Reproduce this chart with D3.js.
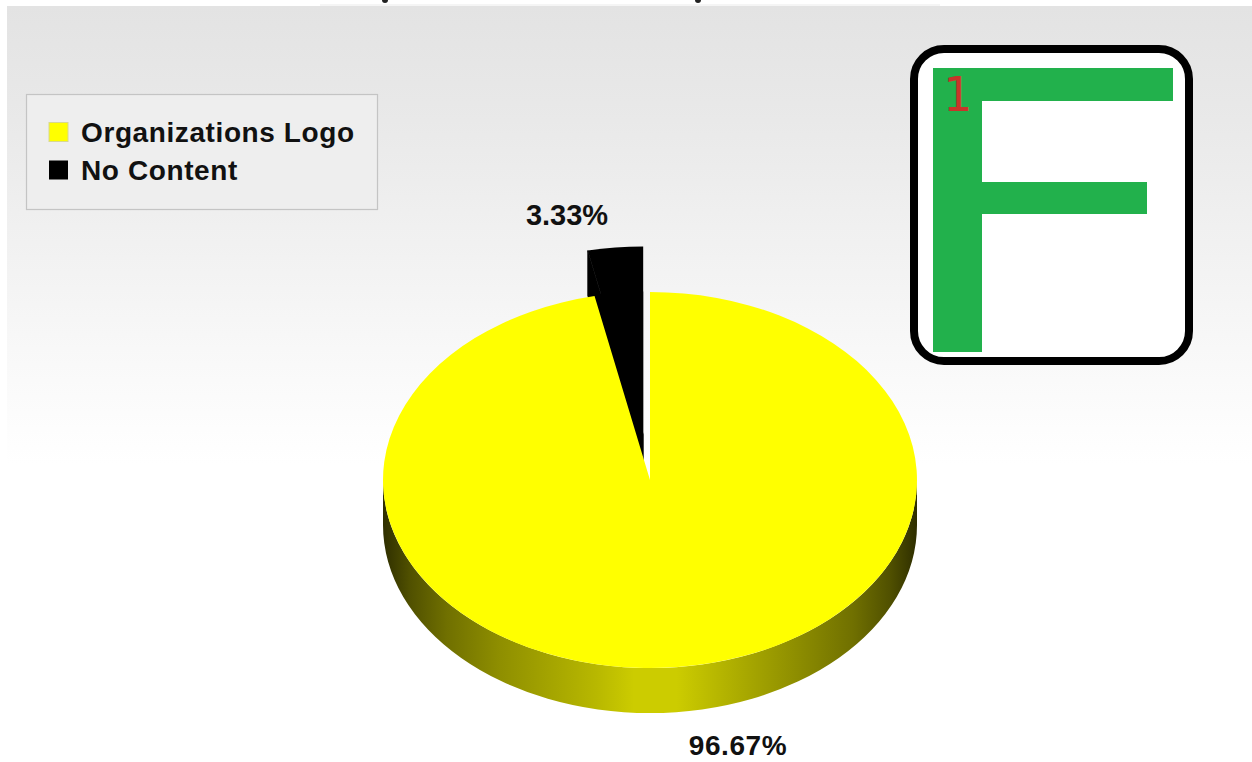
<!DOCTYPE html>
<html>
<head>
<meta charset="utf-8">
<script src="https://cdn.jsdelivr.net/npm/d3@7/dist/d3.min.js"></script>
<style>
html,body{margin:0;padding:0;background:#fff;overflow:hidden}
svg{display:block}
text{font-family:"Liberation Sans",Arial,sans-serif;font-weight:bold;fill:#111}
</style>
</head>
<body>
<svg id="chart" width="1252" height="762"></svg>
<script>
const categories = ["Organizations Logo", "No Content"];
const seriesValues = [96.67, 3.33];
const valueLabels = ["96.67%", "3.33%"];
const seriesColors = ["#ffff00", "#000000"];

const svg = d3.select("#chart");
const defs = svg.append("defs");

const cx = 650, cy = 480, rx = 267, ry = 188, depth = 45, explode = 65;

const bg = defs.append("linearGradient").attr("id","bg").attr("x1",0).attr("y1",0).attr("x2",0).attr("y2",1);
[[0,"#e3e3e3"],[0.25,"#e9e9e9"],[0.55,"#f2f2f2"],[0.85,"#fbfbfb"],[1,"#ffffff"]]
  .forEach(s => bg.append("stop").attr("offset",s[0]).attr("stop-color",s[1]));

const side = defs.append("linearGradient").attr("id","side").attr("x1",0).attr("y1",0).attr("x2",1).attr("y2",0);
[[0,"#2e2e00"],[0.05,"#505000"],[0.12,"#707000"],[0.22,"#8f8f00"],[0.4,"#b8b800"],[0.47,"#cccc00"],[0.55,"#cccc00"],[0.65,"#b0b000"],[0.78,"#8c8c00"],[0.88,"#707000"],[0.95,"#505000"],[1,"#2e2e00"]]
  .forEach(s => side.append("stop").attr("offset",s[0]).attr("stop-color",s[1]));

// background panel and clipped title remnant
svg.append("rect").attr("x",7).attr("y",6).attr("width",1245).attr("height",458).attr("fill","url(#bg)");
svg.append("rect").attr("x",320).attr("y",4).attr("width",620).attr("height",2).attr("fill","#f5f5f5");
[[385,0],[698,0]].forEach(p => svg.append("ellipse").attr("cx",p[0]).attr("cy",p[1]).attr("rx",3).attr("ry",3).attr("fill","#222"));

// pie
const arcs = d3.pie().sort(null).startAngle(0).endAngle(2*Math.PI)(seriesValues);
const arcGen = d3.arc().innerRadius(0).outerRadius(rx);
const yScale = ry / rx;

// rim of the pie
const g = svg.append("g");
const rimCurve = `M${cx-rx},${cy} L${cx-rx},${cy+depth} A${rx},${ry} 0 0 0 ${cx+rx},${cy+depth} L${cx+rx},${cy} A${rx},${ry} 0 0 1 ${cx-rx},${cy} Z`;
g.append("path").attr("d",rimCurve).attr("fill","url(#side)");

// exploded slice: top, bottom and side wall, all in its own colour
const small = arcs[1];
const mid = (small.startAngle + small.endAngle) / 2;
const ox = cx + Math.sin(mid) * explode;
const oy = cy - Math.cos(mid) * explode * yScale;
const lx = ox + Math.sin(small.startAngle) * rx;
const ly = oy - Math.cos(small.startAngle) * ry;
g.append("path")
  .attr("d", `M${ox},${oy} L${lx},${ly} L${lx},${ly+depth} L${ox},${oy+depth} Z`)
  .attr("fill", seriesColors[1]).attr("stroke", seriesColors[1]).attr("stroke-width", 0.8);
[0, depth].forEach(d => {
  g.append("path")
    .attr("d", arcGen(small))
    .attr("transform", `translate(${ox},${oy+d}) scale(1,${yScale})`)
    .attr("fill", seriesColors[1]);
});

// main slice
g.append("path")
  .attr("d", arcGen(arcs[0]))
  .attr("transform", `translate(${cx},${cy}) scale(1,${yScale})`)
  .attr("fill", seriesColors[0]);

// value labels
svg.append("text").attr("x",738).attr("y",755).attr("text-anchor","middle").attr("font-size",28).attr("letter-spacing",0.6).text(valueLabels[0]);
svg.append("text").attr("x",567).attr("y",225).attr("text-anchor","middle").attr("font-size",29).text(valueLabels[1]);

// legend
svg.append("rect").attr("x",26.5).attr("y",94.5).attr("width",351).attr("height",115)
  .attr("fill","#eeeeee").attr("stroke","#c4c4c4").attr("stroke-width",1.2);
const legendRow = d3.scaleBand().domain(categories).range([113,189]);
const leg = svg.selectAll("g.leg").data(categories).join("g").attr("class","leg")
  .attr("transform", d => `translate(0,${legendRow(d)+legendRow.bandwidth()/2})`);
leg.append("rect").attr("x",49).attr("y",-9.5).attr("width",19).attr("height",19)
  .attr("fill",(d,i)=>seriesColors[i]).attr("stroke",(d,i)=>i===0?"#d8d890":"none");
leg.append("text").attr("x",81).attr("y",10).attr("font-size",28).attr("letter-spacing",0.6).text(d=>d);

// logo
const logo = svg.append("g");
logo.append("rect").attr("x",914).attr("y",49).attr("width",275).attr("height",312).attr("rx",30).attr("ry",30)
  .attr("fill","#ffffff").attr("stroke","#000").attr("stroke-width",8);
logo.append("path")
  .attr("d","M933,68 H1173 V101 H982 V182 H1147 V214 H982 V352 H933 Z")
  .attr("fill","#22b14c");
logo.append("text").attr("x",957).attr("y",111).attr("text-anchor","middle")
  .attr("font-size",48).style("font-family","'DejaVu Sans Mono',monospace").style("font-weight","normal").style("fill","#c8352a").text("1");
</script>
</body>
</html>
